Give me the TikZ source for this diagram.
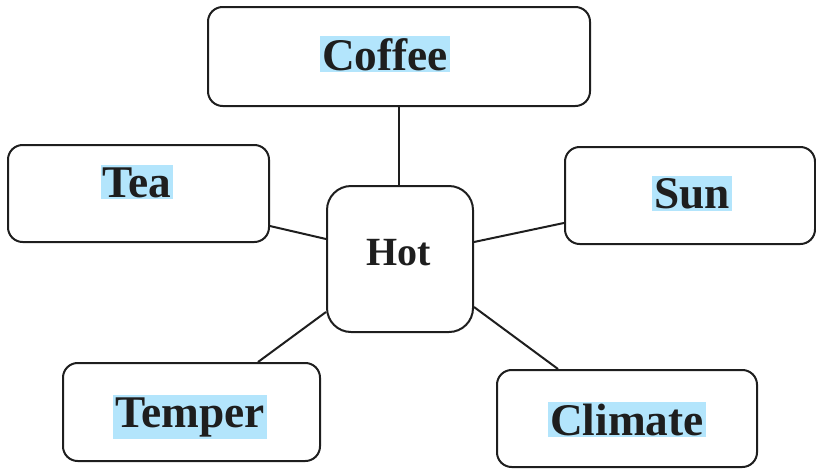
\documentclass[tikz,border=0pt]{standalone}
\usepackage{fontspec}
\setmainfont{Liberation Serif}

\definecolor{hlblue}{RGB}{179,229,252}
\definecolor{inkgray}{RGB}{30,30,30}

\tikzset{every picture/.style={line width=1.5pt}}
\tikzset{
  wordbox/.style={draw=inkgray, rounded corners=11pt, inner sep=0pt},
  hotbox/.style={draw=inkgray, rounded corners=18pt, inner sep=0pt},
  wordtxt/.style={fill=hlblue, anchor=base, inner xsep=1.5pt, inner ysep=1.5pt, text=inkgray, font=\fontsize{34}{40}\bfseries\selectfont},
  hottxt/.style={anchor=base, inner sep=0pt, text=inkgray, font=\fontsize{30}{36}\bfseries\selectfont},
  link/.style={draw=inkgray}
}

\begin{document}
\begin{tikzpicture}[x=0.75pt,y=0.75pt,yscale=-1,xscale=1]
\useasboundingbox (0,0) rectangle (816,468);

% boxes
\draw (399,56.5) node [wordbox, minimum width=286.5pt, minimum height=74.25pt] (coffee) {};
\draw (138.5,193.5) node [wordbox, minimum width=195.75pt, minimum height=72.75pt] (tea) {};
\draw (690,195.5) node [wordbox, minimum width=187.5pt, minimum height=72.75pt] (sun) {};
\draw (400,259) node [hotbox, minimum width=109.5pt, minimum height=109.5pt] (hot) {};
\draw (191.5,412) node [wordbox, minimum width=192.75pt, minimum height=73.5pt] (temper) {};
\draw (627,418.5) node [wordbox, minimum width=195pt, minimum height=72.75pt] (climate) {};

% labels
\draw (385,70) node [wordtxt] (coffeetxt) {Coffee};
\draw (137,197) node [wordtxt] (teatxt) {Tea};
\draw (692,208) node [wordtxt] (suntxt) {Sun};
\draw (399,265) node [hottxt] (hottext) {Hot};
\draw (190,427) node [wordtxt] (tempertxt) {Temper};
\draw (627,435) node [wordtxt] (climatetxt) {Climate};

% links to the centre (yscale=-1, so a positive yshift goes down)
\draw [link] (coffee.south) -- (coffee.south |- hot.north);
\draw [link] ([yshift=24.4pt]tea.east) -- ([yshift=-15pt]hot.west);
\draw [link] ([yshift=20.6pt]sun.west) -- ([yshift=-12.75pt]hot.east);
\draw [link] ([xshift=49.9pt]temper.north) -- ([yshift=39.75pt]hot.west);
\draw [link] ([xshift=-51.75pt]climate.north) -- ([yshift=36pt]hot.east);

\end{tikzpicture}
\end{document}
